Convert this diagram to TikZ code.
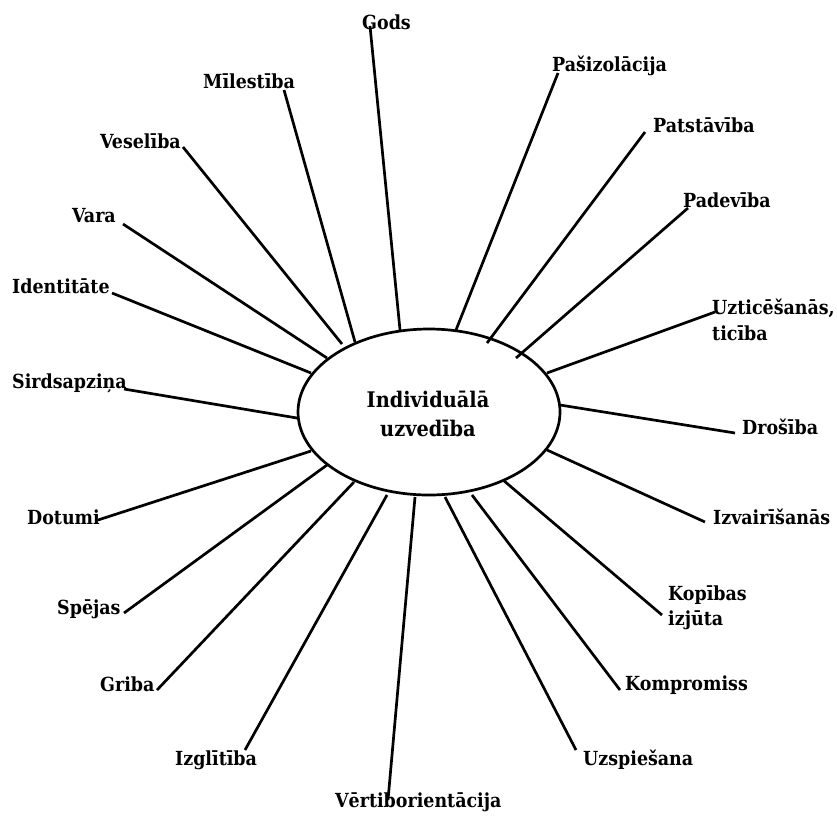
\documentclass[tikz,border=0pt]{standalone}
\usepackage{fontspec}
\setmainfont{DejaVu Serif Condensed}
\usetikzlibrary{shapes.geometric}
\begin{document}
\begin{tikzpicture}[x=1pt,y=-1pt,
  lbl/.style={anchor=base west,inner sep=0pt,font=\fontsize{19.4}{24}\selectfont\bfseries},
  title/.style={anchor=base,inner sep=0pt,font=\fontsize{21.5}{26}\selectfont\bfseries},
  spoke/.style={line width=2.7pt},
  hub/.style={draw,line width=2.7pt,ellipse,minimum width=262pt,minimum height=166pt,inner sep=0pt}]
\useasboundingbox (0,0) rectangle (837,815);

% central ellipse
\node[hub] (hubnode) at (429,412) {};
\node[title] (t1) at (428,407) {Individuālā};
\node[title] (t2) at (428,436) {uzvedība};

% labels
\node[lbl] (gods) at (362,29) {Gods};
\node[lbl] (mil) at (203,88) {Mīlestība};
\node[lbl] (ves) at (100,148) {Veselība};
\node[lbl] (var) at (72,222) {Vara};
\node[lbl] (ide) at (12,293) {Identitāte};
\node[lbl] (sir) at (12,388) {Sirdsapziņa};
\node[lbl] (dot) at (27,524) {Dotumi};
\node[lbl] (spe) at (57,614) {Spējas};
\node[lbl] (gri) at (100,691) {Griba};
\node[lbl] (izg) at (175,765) {Izglītība};
\node[lbl] (ver) at (335,807) {Vērtiborientācija};
\node[lbl] (uzs) at (583,765) {Uzspiešana};
\node[lbl] (kom) at (625,690) {Kompromiss};
\node[lbl] (kop1) at (668,600) {Kopības};
\node[lbl] (kop2) at (668,625) {izjūta};
\node[lbl] (izv) at (713,524) {Izvairīšanās};
\node[lbl] (dro) at (742,434) {Drošība};
\node[lbl] (uzt1) at (712,314) {Uzticēšanās,};
\node[lbl] (uzt2) at (712,340) {ticība};
\node[lbl] (pad) at (683,207) {Padevība};
\node[lbl] (pat) at (653,132) {Patstāvība};
\node[lbl] (pas) at (552,71) {Pašizolācija};

% outer ends of the spokes, next to their labels
\coordinate (o-gods) at (370,26);
\coordinate (o-mil) at (284,90);
\coordinate (o-ves) at (183,147);
\coordinate (o-var) at (123,224);
\coordinate (o-ide) at (112,293);
\coordinate (o-sir) at (124,389);
\coordinate (o-dot) at (98,520);
\coordinate (o-spe) at (124,613);
\coordinate (o-gri) at (157,690);
\coordinate (o-izg) at (245,750);
\coordinate (o-ver) at (388,800);
\coordinate (o-uzs) at (576,750);
\coordinate (o-kom) at (620,690);
\coordinate (o-kop) at (662,615);
\coordinate (o-izv) at (705,522);
\coordinate (o-dro) at (735,433);
\coordinate (o-uzt) at (715,312);
\coordinate (o-pad) at (688,208);
\coordinate (o-pat) at (645,132);
\coordinate (o-pas) at (558,73);

% inner ends of the spokes, at the ellipse
\coordinate (i-gods) at (400,330);
\coordinate (i-mil) at (355,342);
\coordinate (i-ves) at (342,344);
\coordinate (i-var) at (327,358);
\coordinate (i-ide) at (311,373);
\coordinate (i-sir) at (297,418);
\coordinate (i-dot) at (311,451);
\coordinate (i-spe) at (327,465);
\coordinate (i-gri) at (354,482);
\coordinate (i-izg) at (387,495);
\coordinate (i-ver) at (415,497);
\coordinate (i-uzs) at (445,497);
\coordinate (i-kom) at (472,495);
\coordinate (i-kop) at (503,480);
\coordinate (i-izv) at (547,450);
\coordinate (i-dro) at (560,405);
\coordinate (i-uzt) at (547,373);
\coordinate (i-pad) at (516,358);
\coordinate (i-pat) at (487,343);
\coordinate (i-pas) at (456,330);

\foreach \k in {gods,mil,ves,var,ide,sir,dot,spe,gri,izg,ver,uzs,kom,kop,izv,dro,uzt,pad,pat,pas}
  \draw[spoke] (o-\k) -- (i-\k);
\end{tikzpicture}
\end{document}
